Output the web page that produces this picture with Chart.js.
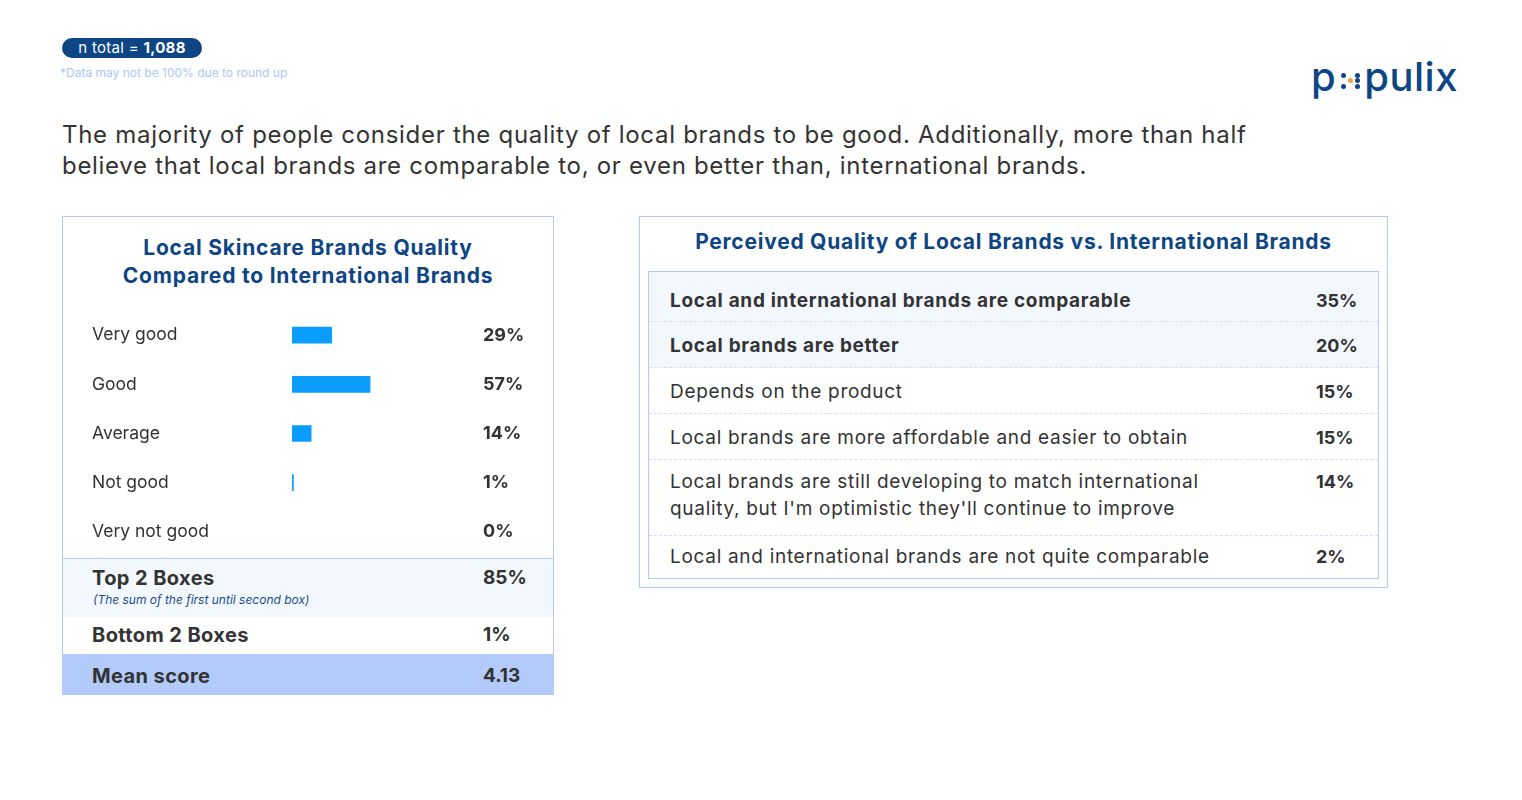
<!DOCTYPE html>
<html>
<head>
<meta charset="utf-8">
<script src="https://cdn.jsdelivr.net/npm/chart.js@4"></script>
<style>
  body { margin:0; width:1522px; height:800px; background:#fff; font-family:Inter, "Open Sans", sans-serif; color:#333; position:relative; overflow:hidden; }
  .abs { position:absolute; }
  #pill { left:62px; top:38px; width:140px; height:20px; border-radius:10px; background:#0d4585; color:#fff; font-size:15px; letter-spacing:0.3px; line-height:20px; text-align:center; }
  #note { left:60px; top:65px; font-size:12px; color:#a9c8f5; }
  #logo { left:1311px; top:52px; font-size:40px; font-weight:500; color:#0d4585; letter-spacing:0.5px; }
  #logo .dots { display:inline-block; position:relative; width:28px; height:30px; }
  #logo .dots i { position:absolute; width:5px; height:5px; border-radius:50%; background:#0d4585; }
  #headline { left:62px; top:119px; font-size:24px; letter-spacing:0.7px; line-height:31px; color:#333; white-space:nowrap; }
  .panel { border:1px solid #b5cbf7; box-sizing:border-box; }
  #left { left:62px; top:216px; width:492px; height:479px; }
  #leftTitle { left:62px; top:234px; width:492px; text-align:center; font-size:21px; letter-spacing:0.8px; font-weight:700; line-height:28px; color:#0d4585; }
  .sum { left:63px; width:490px; box-sizing:border-box; padding-left:29px; font-weight:700; font-size:20px; letter-spacing:0.4px; }
  .sum .v { position:absolute; left:420px; letter-spacing:0; font-size:19px; }
  #right { left:639px; top:216px; width:749px; height:372px; }
  #rightTitle { left:639px; top:229px; width:749px; text-align:center; font-size:21px; letter-spacing:0.75px; font-weight:700; color:#0d4585; }
  #tbl { left:648px; top:271px; width:731px; height:308px; }
  .row { position:absolute; left:0; width:729px; box-sizing:border-box; padding-left:21px; font-size:19px; letter-spacing:0.7px; line-height:27px; }
  .row .v { position:absolute; left:667px; font-weight:700; font-size:18px; letter-spacing:0; }
</style>
</head>
<body>
<div id="pill" class="abs">n total = <b>1,088</b></div>
<div id="note" class="abs">*Data may not be 100% due to round up</div>
<div id="logo" class="abs">p<span class="dots"><i style="left:5px;top:12px"></i><i style="left:5px;top:23px"></i><i style="left:12px;top:17px;background:#f0a23c"></i><i style="left:19px;top:12px"></i><i style="left:19px;top:17px"></i><i style="left:19px;top:23px"></i></span>pulix</div>
<div id="headline" class="abs">The majority of people consider the quality of local brands to be good. Additionally, more than half<br>believe that local brands are comparable to, or even better than, international brands.</div>

<div id="left" class="abs panel"></div>
<div id="leftTitle" class="abs">Local Skincare Brands Quality<br>Compared to International Brands</div>
<canvas id="ratingChart" class="abs" width="491" height="267" style="left:62px;top:300px;"></canvas>
<div class="abs" style="left:63px;top:558px;width:490px;height:1px;background:#b5cbf7"></div>
<div id="summary"></div>

<div id="right" class="abs panel"></div>
<div id="rightTitle" class="abs">Perceived Quality of Local Brands vs. International Brands</div>
<div id="tbl" class="abs panel"></div>

<script>
const ratingLabels = ["Very good", "Good", "Average", "Not good", "Very not good"];
const ratingValues = [29, 57, 14, 1, 0];

const summaryLabels = ["Top 2 Boxes", "Bottom 2 Boxes", "Mean score"];
const summaryValues = ["85%", "1%", "4.13"];

const perceivedLabels = [
  "Local and international brands are comparable",
  "Local brands are better",
  "Depends on the product",
  "Local brands are more affordable and easier to obtain",
  "Local brands are still developing to match international<br>quality, but I'm optimistic they'll continue to improve",
  "Local and international brands are not quite comparable"
];
const perceivedValues = [35, 20, 15, 15, 14, 2];

const fontFam = 'Inter, "Open Sans", sans-serif';

// summary rows under the bars
const sumBoxes = [
  { top: 559, h: 58, bg: '#f3f7fe', textTop: 566 },
  { top: 617, h: 37, bg: '#ffffff', textTop: 623 },
  { top: 654, h: 41, bg: '#b3cbfa', textTop: 664 }
];
let sumHtml = '';
summaryLabels.forEach((lab, i) => {
  const b = sumBoxes[i];
  sumHtml += `<div class="abs" style="left:63px;top:${b.top}px;width:490px;height:${b.h}px;background:${b.bg}"></div>`;
  sumHtml += `<div class="abs sum" style="top:${b.textTop}px">${lab}<span class="v">${summaryValues[i]}</span></div>`;
});
sumHtml += `<div class="abs" style="left:93px;top:592px;font-size:12px;font-style:italic;color:#1a4d8c">(The sum of the first until second box)</div>`;
document.getElementById('summary').innerHTML = sumHtml;

// perceived quality table
const rowTops = [0, 50, 96, 142, 188, 264];
const rowHeights = [50, 46, 46, 46, 76, 42];
const rowPads = [15, 10, 10, 10, 8, 7];
let tblHtml = '';
perceivedLabels.forEach((lab, i) => {
  const bold = i < 2;
  const bg = bold ? '#f3f7fe' : '#fff';
  const border = i < perceivedLabels.length - 1 ? 'border-bottom:1px dashed #d3e0f7;' : '';
  const pad = rowPads[i];
  tblHtml += `<div class="row" style="top:${rowTops[i]}px;height:${rowHeights[i]}px;background:${bg};${border}padding-top:${pad}px;font-weight:${bold ? 700 : 400}">${lab}<span class="v" style="top:${pad}px">${perceivedValues[i]}%</span></div>`;
});
document.getElementById('tbl').innerHTML = tblHtml;

const valuePlugin = {
  id: 'valueText',
  afterDatasetsDraw(chart) {
    const c = chart.ctx;
    const meta = chart.getDatasetMeta(0);
    c.save();
    c.font = '700 18px ' + fontFam;
    c.fillStyle = '#333';
    c.textAlign = 'left';
    c.textBaseline = 'middle';
    meta.data.forEach((bar, i) => {
      c.fillText(ratingValues[i] + '%', chart.chartArea.right + 54, bar.y);
    });
    c.restore();
  }
};

new Chart(document.getElementById('ratingChart'), {
  type: 'bar',
  data: {
    labels: ratingLabels,
    datasets: [{
      data: ratingValues,
      backgroundColor: (ctx) => ctx.raw > 0 ? '#0a9cff' : 'rgba(0,0,0,0)',
      barThickness: 16,
      borderWidth: 0
    }]
  },
  options: {
    indexAxis: 'y',
    responsive: false,
    animation: false,
    layout: { padding: { left: 30, right: 124, top: 0, bottom: 0 } },
    plugins: { legend: { display: false }, tooltip: { enabled: false } },
    scales: {
      x: { min: 0, max: 100, display: false },
      y: {
        grid: { display: false, drawTicks: false },
        border: { display: false },
        ticks: { crossAlign: 'far', color: '#333', padding: 0, font: { size: 17.5, family: fontFam } },
        afterFit(scale) { scale.width = 200; }
      }
    }
  },
  plugins: [valuePlugin]
});
</script>
</body>
</html>
